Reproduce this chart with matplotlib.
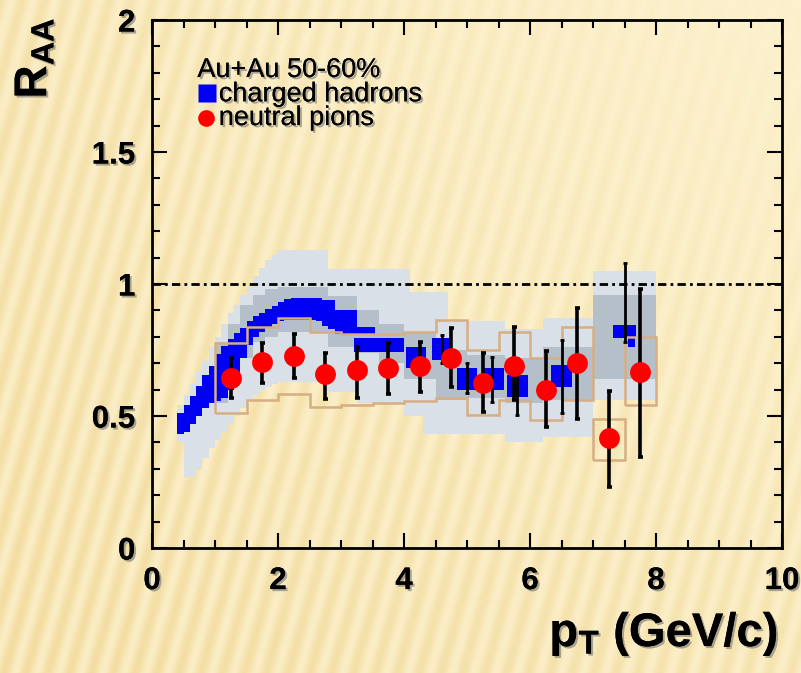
import numpy as np
import matplotlib
matplotlib.use("Agg")
import matplotlib.pyplot as plt
from matplotlib import patheffects as pe
from matplotlib.ticker import MultipleLocator

# ---------------- data ----------------
# charged hadrons: boxes (centre pT, width, lower edge, upper edge)
ch_pt = [0.45, 0.55, 0.65, 0.75, 0.85, 0.95, 1.05, 1.15, 1.25, 1.35, 1.45, 1.55,
         1.65, 1.75, 1.85, 1.95, 2.05, 2.15, 2.25, 2.35, 2.45, 2.55, 2.65, 2.75,
         2.85, 3.08, 3.40, 3.60, 4.19, 4.60, 5.00, 5.42, 5.80, 6.50, 7.50, 7.61]
ch_w = [0.1] * 25 + [0.35, 0.28, 0.80, 0.32, 0.32, 0.32, 0.32, 0.34, 0.32, 0.35, 0.12]
ch_lo = [0.43, 0.44, 0.47, 0.50, 0.53, 0.55, 0.555, 0.57, 0.60, 0.66, 0.72, 0.77,
         0.80, 0.82, 0.835, 0.85, 0.86, 0.865, 0.865, 0.865, 0.865, 0.865, 0.86, 0.84,
         0.83, 0.81, 0.807, 0.744, 0.68, 0.712, 0.60, 0.60, 0.573, 0.61, 0.794, 0.76]
ch_hi = [0.51, 0.54, 0.575, 0.615, 0.655, 0.69, 0.735, 0.765, 0.79, 0.815, 0.835, 0.86,
         0.88, 0.89, 0.905, 0.915, 0.93, 0.945, 0.947, 0.947, 0.947, 0.947, 0.947, 0.94,
         0.94, 0.90, 0.836, 0.794, 0.763, 0.794, 0.68, 0.68, 0.655, 0.693, 0.845, 0.794]

# charged hadrons: statistical error bars at high pT
che_pt = [4.60, 5.00, 5.40, 5.80, 6.50, 7.50]
che_raa = [0.753, 0.640, 0.640, 0.614, 0.651, 0.820]
che_lo = [0.700, 0.587, 0.554, 0.505, 0.510, 0.780]
che_hi = [0.805, 0.700, 0.725, 0.720, 0.787, 1.078]

# charged hadrons: systematic bands (outer and inner)
sys_out_edges = [0.4, 0.5, 0.6, 0.7, 0.8, 0.9, 1.0, 1.1, 1.2, 1.3, 1.4, 1.5, 1.6,
                 1.7, 1.8, 1.9, 2.0, 2.8, 3.25, 4.0, 4.1, 4.3, 4.7, 5.6, 6.2, 7.0, 8.0]
sys_out_lo = [0.40, 0.27, 0.27, 0.30, 0.34, 0.38, 0.41, 0.44, 0.47, 0.50, 0.53, 0.56,
              0.58, 0.60, 0.61, 0.62, 0.63, 0.59, 0.55, 0.50, 0.50, 0.43, 0.43, 0.40,
              0.42, 0.56]
sys_out_hi = [0.54, 0.58, 0.62, 0.67, 0.71, 0.76, 0.80, 0.85, 0.89, 0.92, 0.96, 0.99,
              1.03, 1.06, 1.09, 1.11, 1.13, 1.055, 1.055, 1.055, 0.97, 0.97, 0.86, 0.83,
              0.87, 1.05]

sys_in_edges = [1.0, 1.2, 1.4, 1.6, 1.8, 2.0, 2.8, 3.25, 3.6, 4.0, 4.5, 5.0, 5.6,
                6.2, 7.0, 8.0]
sys_in_lo = [0.55, 0.62, 0.72, 0.78, 0.80, 0.82, 0.76, 0.74, 0.70, 0.64, 0.56, 0.57,
             0.55, 0.56, 0.64]
sys_in_hi = [0.78, 0.85, 0.92, 0.96, 0.98, 0.99, 0.955, 0.90, 0.85, 0.82, 0.75, 0.73,
             0.72, 0.763, 0.96]

# neutral pions
pi_pt = [1.25, 1.75, 2.25, 2.75, 3.25, 3.75, 4.25, 4.75, 5.25, 5.75, 6.25, 6.75, 7.25, 7.75]
pi_raa = [0.644, 0.705, 0.727, 0.660, 0.674, 0.680, 0.690, 0.720, 0.626, 0.690,
          0.600, 0.700, 0.415, 0.665]
pi_err_lo = [0.570, 0.625, 0.644, 0.565, 0.570, 0.583, 0.590, 0.610, 0.516, 0.560,
             0.460, 0.490, 0.230, 0.346]
pi_err_hi = [0.720, 0.776, 0.810, 0.740, 0.760, 0.778, 0.780, 0.835, 0.740, 0.838,
             0.745, 0.908, 0.596, 0.980]
pi_sys_lo = [0.510, 0.560, 0.585, 0.535, 0.540, 0.550, 0.555, 0.570, 0.503, 0.560,
             0.485, 0.560, 0.333, 0.540]
pi_sys_hi = [0.775, 0.838, 0.870, 0.820, 0.810, 0.810, 0.820, 0.864, 0.750, 0.820,
             0.718, 0.838, 0.490, 0.800]
pi_bin_w = 0.5

x_ticks = [0, 2, 4, 6, 8, 10]
y_ticks = [0, 0.5, 1, 1.5, 2]
y_tick_labels = ["0", "0.5", "1", "1.5", "2"]

# ---------------- style ----------------
C_LIGHT = "#dae0e8"
C_DARK = "#b4bfca"
C_BLUE = "#0000f5"
C_RED = "#ff0000"
C_TAN = "#d6ae82"

plt.rcParams["font.family"] = ["Liberation Sans", "DejaVu Sans"]
plt.rcParams["mathtext.fontset"] = "custom"
plt.rcParams["mathtext.rm"] = "Liberation Sans"
plt.rcParams["mathtext.bf"] = "Liberation Sans:bold"
plt.rcParams["mathtext.it"] = "Liberation Sans:italic"

shadow = [pe.withSimplePatchShadow(offset=(1.5, -1.5), shadow_rgbFace=(0.45, 0.45, 0.45),
                                   alpha=0.6), pe.Normal()]

W, H = 801, 673
fig = plt.figure(figsize=(W / 100, H / 100), dpi=100)

# striped cream backdrop, stripes fading towards the upper right
yy, xx = np.mgrid[0:H, 0:W].astype(float)
theta = np.deg2rad(74)
phase = (xx * np.sin(theta) + yy * np.cos(theta)) / 21.0
profile = 0.5 + 0.5 * np.cos(2 * np.pi * phase)
strength = np.clip(0.95 - 0.75 * (xx / W) * (1 - 0.6 * yy / H) - 0.2 * (1 - yy / H),
                   0.08, 1.0)
c_light = np.array([253, 242, 207]) / 255
c_dark = np.array([242, 220, 160]) / 255
base = c_light - 0.25 * (c_light - c_dark) * strength[..., None]
img = base + (c_dark - c_light) * 0.8 * (profile * strength)[..., None]
img = np.clip(img, 0, 1)
bg = fig.add_axes([0, 0, 1, 1], zorder=-10)
bg.imshow(img, aspect="auto", interpolation="bilinear")
bg.axis("off")

ax = fig.add_axes([152 / W, 125 / H, 630 / W, 528 / H])
ax.set_facecolor("none")

# systematic bands of charged hadrons
ax.stairs(sys_out_hi, sys_out_edges, baseline=sys_out_lo, fill=True,
          color=C_LIGHT, lw=0, zorder=1)
ax.stairs(sys_in_hi, sys_in_edges, baseline=sys_in_lo, fill=True,
          color=C_DARK, lw=0, zorder=2)

# unity reference
ax.axhline(1.0, color="black", lw=2.0, ls=(0, (3, 1.5, 1, 1.5)), zorder=3)

# charged hadron boxes
ch_lo_a = np.array(ch_lo)
ch_hi_a = np.array(ch_hi)
ax.bar(ch_pt, ch_hi_a - ch_lo_a, width=ch_w, bottom=ch_lo_a, color=C_BLUE,
       lw=0, zorder=4)

# neutral pion systematic boxes: contiguous outline 1-7 GeV/c, single boxes above
pi_edges = [p - pi_bin_w / 2 for p in pi_pt] + [pi_pt[-1] + pi_bin_w / 2]
n_joint = 12
ax.stairs(pi_sys_hi[:n_joint], pi_edges[:n_joint + 1], baseline=pi_sys_lo[:n_joint],
          fill=False, color=C_TAN, lw=1.8, zorder=5)
for i in range(n_joint, len(pi_pt)):
    ax.stairs([pi_sys_hi[i]], pi_edges[i:i + 2], baseline=[pi_sys_lo[i]],
              fill=False, color=C_TAN, lw=1.8, zorder=5)

# statistical error bars
che_raa_a = np.array(che_raa)
ax.errorbar(che_pt, che_raa_a,
            yerr=[che_raa_a - np.array(che_lo), np.array(che_hi) - che_raa_a],
            fmt="none", ecolor="black", elinewidth=2.0, capsize=1.5, capthick=2,
            zorder=6)
pi_raa_a = np.array(pi_raa)
ax.errorbar(pi_pt, pi_raa_a,
            yerr=[pi_raa_a - np.array(pi_err_lo), np.array(pi_err_hi) - pi_raa_a],
            fmt="none", ecolor="black", elinewidth=2.6, capsize=1.8, capthick=2.6,
            zorder=7)
ax.plot(pi_pt, pi_raa, "o", color=C_RED, ms=15, mec="none", zorder=8)

# legend
ax.text(0.072, 0.892, "Au+Au 50-60%", transform=ax.transAxes, fontsize=19.5,
        va="baseline", ha="left", path_effects=shadow, zorder=10)
ax.plot([0.088], [0.861], "s", color=C_BLUE, ms=13.5, mec="none",
        transform=ax.transAxes, zorder=10)
ax.text(0.106, 0.846, "charged hadrons", transform=ax.transAxes, fontsize=19.5,
        va="baseline", ha="left", path_effects=shadow, zorder=10)
ax.plot([0.086], [0.815], "o", color=C_RED, ms=12, mec="none",
        transform=ax.transAxes, zorder=10)
ax.text(0.106, 0.801, "neutral pions", transform=ax.transAxes, fontsize=19.5,
        va="baseline", ha="left", path_effects=shadow, zorder=10)

# axes
ax.set_xlim(0, 10)
ax.set_ylim(0, 2)
ax.set_xticks(x_ticks)
ax.set_xticklabels([str(t) for t in x_ticks])
ax.set_yticks(y_ticks)
ax.set_yticklabels(y_tick_labels)
ax.xaxis.set_minor_locator(MultipleLocator(0.5))
ax.yaxis.set_minor_locator(MultipleLocator(0.1))
ax.tick_params(which="both", direction="in", top=True, right=True, width=1.5,
               colors="black")
ax.tick_params(which="major", length=11)
ax.tick_params(which="minor", length=5.5)
ax.tick_params(axis="x", which="major", pad=13)
ax.tick_params(axis="y", which="major", pad=12)
for lab in ax.get_xticklabels() + ax.get_yticklabels():
    lab.set_fontsize(22.5)
    lab.set_fontweight("bold")
    lab.set_path_effects(shadow)
for sp in ax.spines.values():
    sp.set_linewidth(2.0)

ax.set_xlabel(r"$\mathbf{p_{T}}$ (GeV/c)", fontsize=34, fontweight="bold",
              loc="right", path_effects=shadow)
ax.xaxis.set_label_coords(0.994, -0.118)
ax.set_ylabel(r"$\mathbf{R_{AA}}$", fontsize=33, loc="top", path_effects=shadow)
ax.yaxis.set_label_coords(-0.152, 1.005)

fig.savefig("out.png", dpi=100)
